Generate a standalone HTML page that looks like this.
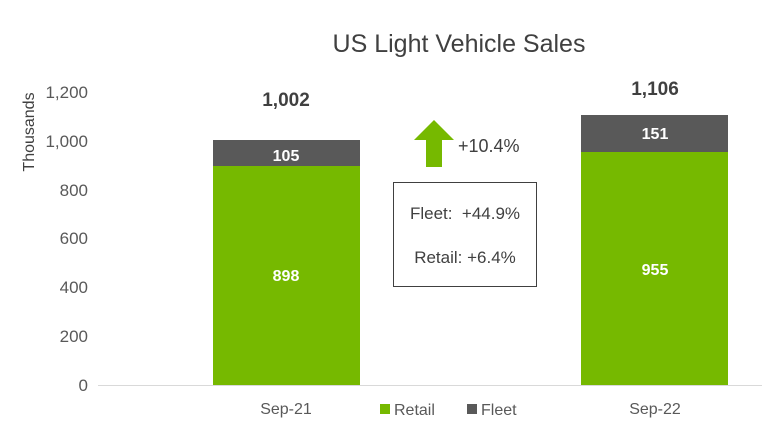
<!DOCTYPE html>
<html><head><style>
body{margin:0;background:#fff;}
svg{display:block;font-family:"Liberation Sans",sans-serif;}
</style></head><body>
<svg width="762" height="436" viewBox="0 0 762 436">
<rect width="762" height="436" fill="#fff"/>
<text x="459" y="52" font-size="25" fill="#404040" text-anchor="middle">US Light Vehicle Sales</text>
<text transform="translate(34,132) rotate(-90)" font-size="16" fill="#404040" text-anchor="middle">Thousands</text>
<g font-size="17" fill="#595959" text-anchor="end">
<text x="88" y="391">0</text>
<text x="88" y="342">200</text>
<text x="88" y="293">400</text>
<text x="88" y="244">600</text>
<text x="88" y="196">800</text>
<text x="88" y="147">1,000</text>
<text x="88" y="98">1,200</text>
</g>
<line x1="98" y1="385.5" x2="762" y2="385.5" stroke="#d9d9d9" stroke-width="1"/>
<rect x="213" y="166" width="147" height="219" fill="#76b900"/>
<rect x="213" y="140" width="147" height="26" fill="#595959"/>
<rect x="581" y="152" width="147" height="233" fill="#76b900"/>
<rect x="581" y="115" width="147" height="37" fill="#595959"/>
<g font-weight="bold" font-size="16" fill="#fff" text-anchor="middle">
<text x="286" y="281">898</text>
<text x="286" y="161">105</text>
<text x="655" y="275">955</text>
<text x="655" y="139">151</text>
</g>
<g font-weight="bold" font-size="19" fill="#404040" text-anchor="middle">
<text x="286" y="106">1,002</text>
<text x="655" y="95">1,106</text>
</g>
<polygon points="434,120 454,140 442,140 442,167 426,167 426,140 414,140" fill="#76b900"/>
<text x="458" y="152" font-size="18" fill="#404040">+10.4%</text>
<rect x="393.5" y="182.5" width="143" height="104" fill="#fff" stroke="#404040" stroke-width="1"/>
<text x="465" y="219" font-size="17" fill="#404040" text-anchor="middle">Fleet:&#160; +44.9%</text>
<text x="465" y="263" font-size="17" fill="#404040" text-anchor="middle">Retail: +6.4%</text>
<g font-size="16" fill="#595959" text-anchor="middle">
<text x="286" y="414">Sep-21</text>
<text x="655" y="414">Sep-22</text>
</g>
<rect x="380" y="404" width="10" height="10" fill="#76b900"/>
<text x="394" y="415" font-size="16" fill="#595959">Retail</text>
<rect x="467" y="404" width="10" height="10" fill="#595959"/>
<text x="481" y="415" font-size="16" fill="#595959">Fleet</text>
</svg>
</body></html>
